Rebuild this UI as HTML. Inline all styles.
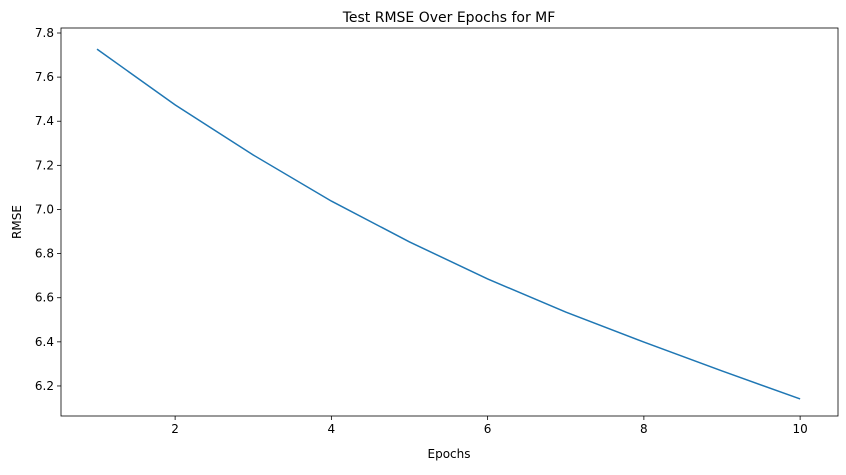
<!DOCTYPE html>
<html><head><meta charset="utf-8"><style>
body{margin:0;background:#fff;font-family:"Liberation Sans","DejaVu Sans",sans-serif;}
svg text{font-family:"DejaVu Sans","Liberation Sans",sans-serif;}
</style></head><body>
<svg id="chart" width="846" height="470">
<text x="449" y="22" font-size="14" text-anchor="middle">Test RMSE Over Epochs for MF</text>
<g id="axes"></g>
<text x="449" y="458" font-size="12" text-anchor="middle">Epochs</text>
<text transform="translate(21,222) rotate(-90)" font-size="12" text-anchor="middle">RMSE</text>
</svg>
<script>
const epochs=[1,2,3,4,5,6,7,8,9,10];
const rmse=[7.727,7.474,7.247,7.038,6.853,6.685,6.535,6.399,6.268,6.141];
const xTicks=[2,4,6,8,10];
const yTicks=[6.2,6.4,6.6,6.8,7.0,7.2,7.4,7.6,7.8];
const L=61,R=838,T=28,B=416;
function xs(v){return 97+(v-1)*78.125;}
function ys(v){return 33+(7.8-v)*220.6;}
const NS='http://www.w3.org/2000/svg';
const g=document.getElementById('axes');
function mk(t,a,p){const e=document.createElementNS(NS,t);for(const k in a)e.setAttribute(k,a[k]);(p||g).appendChild(e);return e;}
const frame=mk('rect',{x:L,y:T,width:R-L,height:B-T,fill:'none',stroke:'#000','stroke-width':0.8});


xTicks.forEach(v=>{const x=xs(v);
mk('line',{x1:x,x2:x,y1:B,y2:B+4,stroke:'#000','stroke-width':0.8});
const t=mk('text',{x:x,y:B+17,'font-size':12,'text-anchor':'middle'});t.textContent=v;

});
yTicks.forEach(v=>{const y=ys(v);
mk('line',{x1:L-4,x2:L,y1:y,y2:y,stroke:'#000','stroke-width':0.8});
const t=mk('text',{x:L-7,y:y+4,'font-size':12,'text-anchor':'end'});t.textContent=v.toFixed(1);

});
const pts=epochs.map((e,i)=>xs(e)+','+ys(rmse[i])).join(' ');
const line=mk('polyline',{points:pts,fill:'none',stroke:'#1f77b4','stroke-width':1.5});


</script>
</body></html>
